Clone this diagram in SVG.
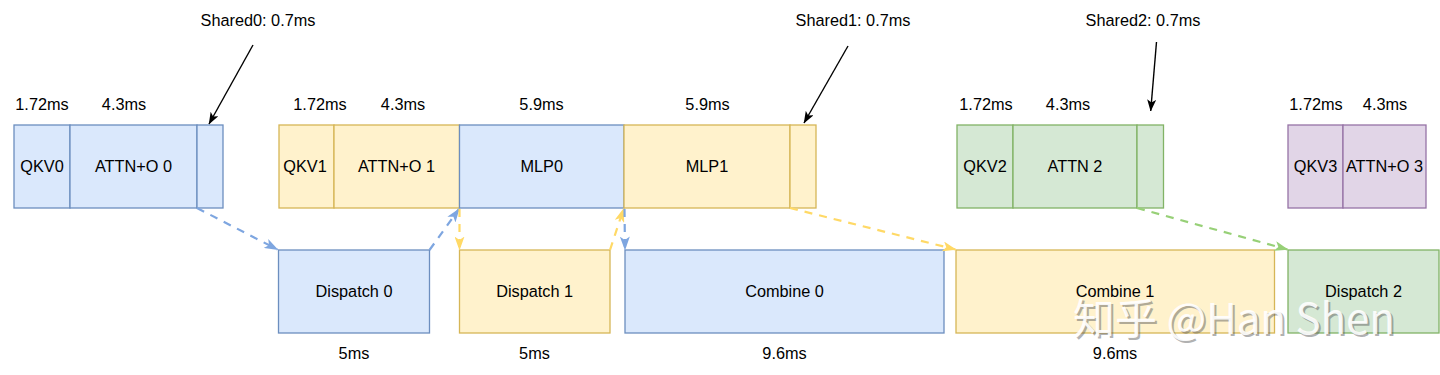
<svg xmlns="http://www.w3.org/2000/svg" width="1440" height="375" viewBox="0 0 1440 375">
<style>
text{font-family:"Liberation Sans",Arial,Helvetica,sans-serif;font-size:16.3px;fill:#000;text-anchor:middle}
.b{fill:#DAE8FC;stroke:#6C8EBF;stroke-width:1.3}
.y{fill:#FFF2CC;stroke:#D6B656;stroke-width:1.3}
.g{fill:#D5E8D4;stroke:#82B366;stroke-width:1.3}
.p{fill:#E1D5E7;stroke:#9673A6;stroke-width:1.3}
.cb{stroke:#7EA6E0;stroke-width:2.2;stroke-dasharray:8 7;fill:none}
.cy{stroke:#FFD966;stroke-width:2.2;stroke-dasharray:8 7;fill:none}
.cg{stroke:#97D077;stroke-width:2.2;stroke-dasharray:8 7;fill:none}
.ck{stroke:#000;stroke-width:1.4;fill:none}
.wm{font-family:"Noto Sans CJK SC","Noto Sans",sans-serif;font-size:42px;text-anchor:start}
</style>
<defs>
<marker id="ab" viewBox="0 0 14 10" refX="13" refY="5" markerWidth="14" markerHeight="10" markerUnits="userSpaceOnUse" orient="auto"><path d="M0,0 L14,5 L0,10 L3.5,5 Z" fill="#7EA6E0"/></marker>
<marker id="ay" viewBox="0 0 14 10" refX="13" refY="5" markerWidth="14" markerHeight="10" markerUnits="userSpaceOnUse" orient="auto"><path d="M0,0 L14,5 L0,10 L3.5,5 Z" fill="#FFD966"/></marker>
<marker id="ag" viewBox="0 0 14 10" refX="13" refY="5" markerWidth="14" markerHeight="10" markerUnits="userSpaceOnUse" orient="auto"><path d="M0,0 L14,5 L0,10 L3.5,5 Z" fill="#97D077"/></marker>
<marker id="ak" viewBox="0 0 12 9" refX="11.5" refY="4.5" markerWidth="12" markerHeight="9" markerUnits="userSpaceOnUse" orient="auto"><path d="M0,0 L12,4.5 L0,9 L3,4.5 Z" fill="#000"/></marker>
</defs>
<rect width="1440" height="375" fill="#fff"/>

<g id="labels">
<text x="258" y="26">Shared0: 0.7ms</text>
<text x="853" y="26">Shared1: 0.7ms</text>
<text x="1143" y="26">Shared2: 0.7ms</text>
<text x="42" y="110">1.72ms</text>
<text x="124" y="110">4.3ms</text>
<text x="320" y="110">1.72ms</text>
<text x="403" y="110">4.3ms</text>
<text x="541.5" y="110">5.9ms</text>
<text x="707.5" y="110">5.9ms</text>
<text x="986" y="110">1.72ms</text>
<text x="1068" y="110">4.3ms</text>
<text x="1316" y="110">1.72ms</text>
<text x="1385" y="110">4.3ms</text>
<text x="354" y="359">5ms</text>
<text x="534.5" y="359">5ms</text>
<text x="784.5" y="359">9.6ms</text>
<text x="1115" y="359">9.6ms</text>
</g>

<g id="qkv0"><rect class="b" x="14" y="125" width="56" height="83"/><text x="42" y="172">QKV0</text></g>
<g id="attn0"><rect class="b" x="70" y="125" width="127" height="83"/><text x="133.5" y="172">ATTN+O 0</text></g>
<g id="shared0"><rect class="b" x="197" y="125" width="26" height="83"/></g>

<g id="qkv1"><rect class="y" x="279" y="125" width="55" height="83"/><text x="305" y="172">QKV1</text></g>
<g id="attn1"><rect class="y" x="334" y="125" width="125.5" height="83"/><text x="396.5" y="172">ATTN+O 1</text></g>
<g id="mlp0"><rect class="b" x="459.5" y="125" width="164.5" height="83"/><text x="541.7" y="172">MLP0</text></g>
<g id="mlp1"><rect class="y" x="624" y="125" width="166" height="83"/><text x="707" y="172">MLP1</text></g>
<g id="shared1"><rect class="y" x="790" y="125" width="26" height="83"/></g>

<g id="qkv2"><rect class="g" x="957" y="125" width="56" height="83"/><text x="985" y="172">QKV2</text></g>
<g id="attn2"><rect class="g" x="1013" y="125" width="124" height="83"/><text x="1075" y="172">ATTN 2</text></g>
<g id="shared2"><rect class="g" x="1137" y="125" width="26.5" height="83"/></g>

<g id="qkv3"><rect class="p" x="1288" y="125" width="55" height="83"/><text x="1315.5" y="172">QKV3</text></g>
<g id="attn3"><rect class="p" x="1343" y="125" width="83" height="83"/><text x="1384.5" y="172">ATTN+O 3</text></g>

<g id="dispatch0"><rect class="b" x="278.5" y="250" width="151" height="83"/><text x="354" y="297">Dispatch 0</text></g>
<g id="dispatch1"><rect class="y" x="459.5" y="250" width="150.5" height="83"/><text x="534.7" y="297">Dispatch 1</text></g>
<g id="combine0"><rect class="b" x="625" y="250" width="319" height="83"/><text x="784.5" y="297">Combine 0</text></g>
<g id="combine1"><rect class="y" x="956" y="250" width="318.5" height="83"/><text x="1115" y="297">Combine 1</text></g>
<g id="dispatch2"><rect class="g" x="1288" y="250" width="151" height="83"/><text x="1363.5" y="297">Dispatch 2</text></g>

<g id="connectors">
<path class="ck" d="M253,45 L209,124" marker-end="url(#ak)"/>
<path class="ck" d="M848,46 L804,123" marker-end="url(#ak)"/>
<path class="ck" d="M1156.5,42 L1150.7,111" marker-end="url(#ak)"/>
<path class="cb" d="M197,208 L277.5,249.5" marker-end="url(#ab)"/>
<path class="cb" d="M429.5,250 L459,209" marker-end="url(#ab)"/>
<path class="cy" d="M459.5,209 L459.5,249.5" marker-end="url(#ay)"/>
<path class="cy" d="M610,250 L623.5,209" marker-end="url(#ay)"/>
<path class="cb" d="M624.5,209 L625,249.5" marker-end="url(#ab)"/>
<path class="cy" d="M790,208 L955.5,249.5" marker-end="url(#ay)"/>
<path class="cg" d="M1137,208 L1287.5,249.5" marker-end="url(#ag)"/>
</g>

<g id="watermark">
<text class="wm" x="1073" y="334" style="fill:#555;opacity:0.45" transform="translate(2,2)">知乎 @Han Shen</text>
<text class="wm" x="1073" y="334" style="fill:#fff;opacity:0.9">知乎 @Han Shen</text>
</g>
</svg>
